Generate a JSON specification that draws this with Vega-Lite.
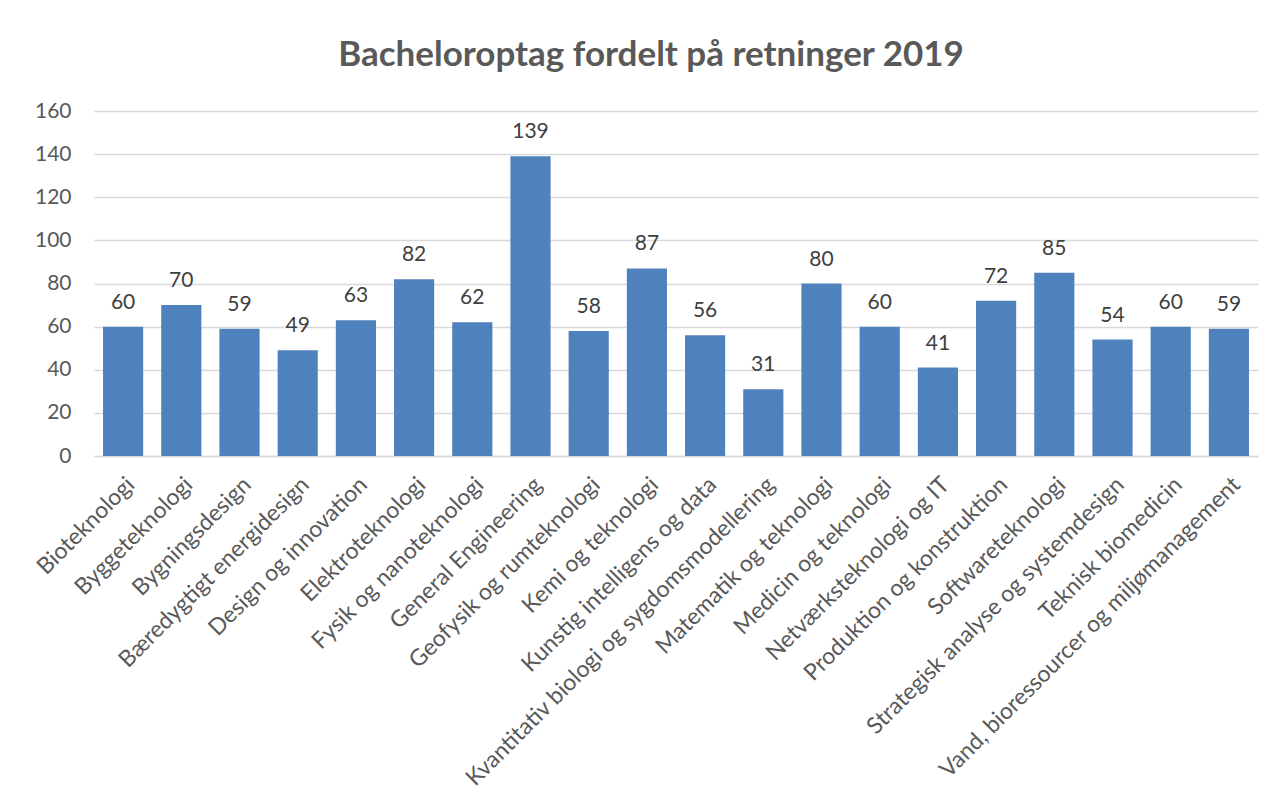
{
  "$schema": "https://vega.github.io/schema/vega-lite/v6.json",
  "autosize": "none",
  "width": 1164,
  "height": 345,
  "padding": {"left": 94, "top": 111, "right": 26, "bottom": 338},
  "background": "white",
  "title": {
    "text": "Bacheloroptag fordelt på retninger 2019",
    "font": "Lato",
    "fontSize": 35,
    "fontWeight": "bold",
    "color": "#595959",
    "anchor": "middle",
    "dx": -25,
    "offset": 27
  },
  "data": {
    "values": [
      {"retning": "Bioteknologi", "antal": 60},
      {"retning": "Byggeteknologi", "antal": 70},
      {"retning": "Bygningsdesign", "antal": 59},
      {"retning": "Bæredygtigt energidesign", "antal": 49},
      {"retning": "Design og innovation", "antal": 63},
      {"retning": "Elektroteknologi", "antal": 82},
      {"retning": "Fysik og nanoteknologi", "antal": 62},
      {"retning": "General Engineering", "antal": 139},
      {"retning": "Geofysik og rumteknologi", "antal": 58},
      {"retning": "Kemi og teknologi", "antal": 87},
      {"retning": "Kunstig intelligens og data", "antal": 56},
      {"retning": "Kvantitativ biologi og sygdomsmodellering", "antal": 31},
      {"retning": "Matematik og teknologi", "antal": 80},
      {"retning": "Medicin og teknologi", "antal": 60},
      {"retning": "Netværksteknologi og IT", "antal": 41},
      {"retning": "Produktion og konstruktion", "antal": 72},
      {"retning": "Softwareteknologi", "antal": 85},
      {"retning": "Strategisk analyse og systemdesign", "antal": 54},
      {"retning": "Teknisk biomedicin", "antal": 60},
      {"retning": "Vand, bioressourcer og miljømanagement", "antal": 59}
    ]
  },
  "encoding": {
    "x": {
      "field": "retning",
      "type": "nominal",
      "sort": null,
      "title": null,
      "scale": {"paddingInner": 0.31, "paddingOuter": 0.155},
      "axis": {
        "labelAngle": -45,
        "labelAlign": "right",
        "labelBaseline": "top",
        "labelFont": "Lato",
        "labelFontSize": 23,
        "labelColor": "#595959",
        "labelPadding": 17,
        "labelOffset": 0,
        "labelLimit": 0,
        "ticks": false,
        "domainColor": "#d9d9d9",
        "domainWidth": 1.5
      }
    },
    "y": {
      "field": "antal",
      "type": "quantitative",
      "title": null,
      "scale": {"domain": [0, 160]},
      "axis": {
        "values": [0, 20, 40, 60, 80, 100, 120, 140, 160],
        "labelFont": "Lato",
        "labelFontSize": 21,
        "labelColor": "#595959",
        "labelPadding": 23,
        "ticks": false,
        "domain": false,
        "gridColor": "#d9d9d9",
        "gridWidth": 1.5
      }
    }
  },
  "layer": [
    {"mark": {"type": "bar", "color": "#4F81BD"}},
    {
      "mark": {
        "type": "text",
        "font": "Lato",
        "fontSize": 21,
        "color": "#404040",
        "baseline": "alphabetic",
        "dy": -18
      },
      "encoding": {"text": {"field": "antal", "type": "quantitative"}}
    }
  ],
  "config": {"view": {"stroke": null}}
}
